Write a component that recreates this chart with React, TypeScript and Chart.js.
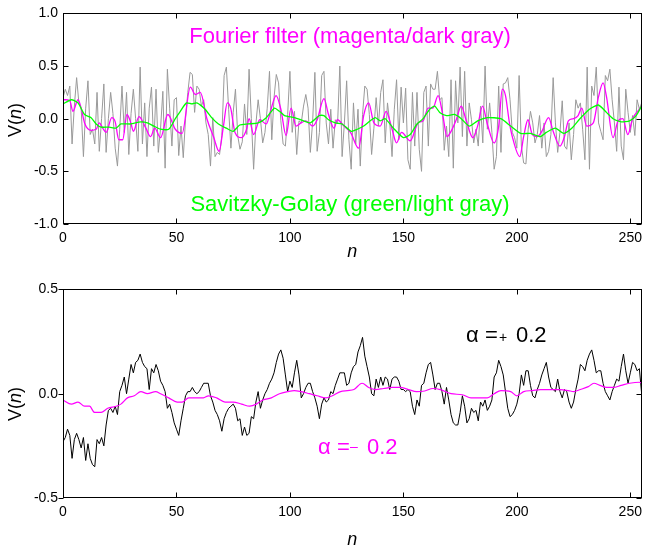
import { useEffect, useRef } from "react";
import { Chart, registerables } from "chart.js";

Chart.register(...registerables);

const FONT = "'Liberation Sans', Arial, Helvetica, sans-serif";
Chart.defaults.font.family = FONT;

// ---------- axes ----------
const X_MIN = 0;
const X_MAX = 255;
const xTickValues = [0, 50, 100, 150, 200, 250];
const topYTickValues = [-1, -0.5, 0, 0.5, 1];
const bottomYTickValues = [-0.5, 0, 0.5];

// ---------- top panel: raw signal (gray), n = 0..255 ----------
const rawSignal = [
  0.2, 0.28, 0.22, 0.31, -0.24, 0.12, 0.39, 0.15, 0.1, -0.36,
  0.1, 0.36, -0.15, -0.1, -0.24, 0.25, -0.31, 0.0, 0.33, -0.32,
  0.0, 0.25, 0.05, -0.28, -0.45, -0.1, 0.31, -0.13, 0.25, -0.34,
  0.05, 0.28, 0.0, -0.31, 0.49, -0.24, 0.15, -0.36, 0.1, 0.3,
  -0.26, 0.28, -0.32, -0.09, 0.26, -0.47, 0.47, 0.1, -0.26, 0.18,
  0.2, -0.35, -0.07, -0.37, 0.0, 0.25, 0.44, 0.42, 0.06, 0.31,
  0.28, 0.12, 0.18, -0.04, -0.15, -0.45, 0.01, -0.36, -0.32, -0.34,
  -0.16, 0.41, 0.49, 0.09, -0.28, 0.06, 0.28, -0.16, -0.29, -0.22,
  0.14, -0.15, 0.47, 0.0, -0.48, -0.05, 0.18, 0.0, -0.23, -0.13,
  0.1, 0.45, -0.2, 0.2, 0.42, 0.34, -0.02, -0.24, -0.26, 0.04,
  0.45, -0.13, 0.07, -0.34, -0.02, -0.04, 0.12, 0.23, 0.1, -0.32,
  -0.03, 0.44, -0.31, -0.13, 0.41, 0.45, -0.04, -0.24, 0.09, -0.28,
  -0.01, -0.05, 0.5, -0.36, -0.04, 0.36, -0.2, -0.48, 0.15, -0.24,
  0.09, -0.45, 0.04, 0.31, 0.28, 0.04, -0.34, -0.09, 0.2, -0.07,
  0.25, 0.37, -0.23, 0.15, -0.04, -0.36, 0.09, 0.37, -0.2, 0.3,
  -0.04, 0.29, -0.39, -0.48, 0.25, -0.26, 0.25, -0.29, -0.5, 0.25,
  0.31, -0.26, 0.33, 0.28, 0.28, 0.45, 0.18, 0.2, -0.3, -0.07,
  -0.36, 0.37, -0.47, 0.36, -0.04, 0.49, -0.17, 0.45, -0.26, 0.15,
  -0.01, -0.23, -0.1, -0.26, 0.12, -0.23, 0.5, -0.1, 0.15, -0.13,
  -0.48, -0.36, 0.31, -0.32, 0.33, 0.34, 0.39, 0.18, -0.13, -0.18,
  -0.28, 0.41, -0.26, -0.42, -0.43, -0.1, 0.07, -0.04, -0.23, -0.15,
  0.03, -0.28, -0.04, -0.36, -0.31, -0.15, 0.39, -0.04, -0.32, -0.13,
  0.17, -0.26, -0.29, -0.04, -0.39, -0.15, 0.18, 0.1, 0.15, -0.1,
  -0.39, 0.49, -0.48, 0.31, 0.22, 0.49, -0.04, -0.12, -0.2, 0.41,
  0.36, 0.47, 0.18, -0.04, -0.31, 0.3, -0.26, -0.39, 0.28, 0.06,
  -0.13, 0.03, -0.16, 0.18, 0.09, 0.15,
];

// ---------- top panel: Fourier filter (magenta) ----------
const fourierN = [
  0, 1, 3, 4.4, 6.6, 8, 9.5, 12.4, 14.6, 16, 17.5, 19, 21.5, 23, 24.6, 26.3, 28.2,
  29.9, 31, 33.5, 36.5, 38.6, 40.4, 43, 46.2, 49.5, 52.5, 56.1, 58.3, 60.5, 63.4,
  66.3, 68.8, 70.7, 72.4, 73.9, 75.8, 78.7, 80.9, 82, 84, 86.7, 89.6, 91.8, 93.9,
  96, 98.3, 100.5, 102.7, 104.9, 107, 110, 112, 115, 117, 119.4, 120.9, 123.8,
  126.7, 130.3, 132.5, 134.7, 137, 139.8, 142.4, 144.9, 147, 149.2, 153, 156.5,
  158.7, 160.9, 163, 165.3, 167.4, 169.2, 171, 173.3, 175.5, 177.6, 180.6, 182.7,
  184.9, 187, 190, 192, 193.6, 195, 196.6, 198, 201.3, 203, 204.9, 206.8, 209, 211,
  214, 216, 219, 221, 222.7, 225, 227, 228.6, 230.8, 233.7, 235.9, 238, 239.5,
  242.4, 244.6, 246.7, 248.9, 251, 254, 255,
];
const fourierV = [
  0.18, 0.18, 0.17, 0.07, 0.18, 0.1, -0.04, -0.11, -0.1, -0.04, -0.09, -0.13, 0.01, -0.03, -0.2, -0.2, 0.04,
  -0.04, -0.12, 0.02, -0.09, -0.17, -0.09, -0.18, 0.04, -0.1, -0.14, 0.3, 0.23, 0.25, 0.0,
  -0.17, -0.31, -0.07, 0.15, 0.1, -0.13, -0.18, -0.1, 0.0, -0.15, -0.01, -0.05, 0.1, 0.22,
  0.09, -0.16, 0.1, -0.07, -0.04, -0.02, -0.07, -0.01, 0.19, 0.04, -0.09, -0.01, -0.07,
  -0.13, -0.28, 0.03, 0.15, -0.04, -0.07, 0.07, -0.09, -0.23, -0.13, -0.21, -0.04,
  -0.02, 0.1, 0.1, 0.22, 0.03, -0.17, -0.12, -0.01, 0.12, -0.01, -0.18, -0.07,
  0.12, -0.05, -0.23, -0.07, 0.28, 0.22, -0.02, -0.17, -0.36, -0.17, -0.01, -0.15, -0.17, -0.12,
  0.01, -0.12, -0.26, -0.17, -0.02, 0.0, 0.03, 0.1, -0.07, -0.04, 0.2, 0.34, 0.21,
  -0.18, -0.02, 0.0, -0.15, 0.0, 0.09, 0.12,
];

// ---------- top panel: Savitzky-Golay (green) ----------
const sgN = [
  0, 3.7, 6.6, 9.5, 12.4, 14.6, 16.8, 20.4, 23.4, 25.5, 29.9, 34.3, 37.2, 40, 43, 46.6,
  49.5, 51.7, 54.4, 56.8, 59, 62.6, 65.5, 68.5, 72, 75, 77.9, 81.6, 86, 89.6, 93.2,
  95.4, 97.6, 102, 106, 109, 113, 115, 117, 120, 123, 127, 129.7, 132.5, 135.4, 137.6,
  139.8, 142, 145.6, 150, 153, 156, 158.7, 161.6, 163.8, 166, 169, 172.5, 175.5, 179,
  182.7, 187, 192.9, 197.3, 201.7, 206, 210.4, 213, 217, 220.6, 224.2, 227.8, 232,
  235.9, 239.5, 242.4, 246, 249.7, 252.6, 255,
];
const sgV = [
  0.14, 0.18, 0.15, 0.04, 0.01, -0.05, -0.08, -0.08, -0.09, -0.05, -0.05, -0.03, -0.04, -0.07, -0.1, -0.1,
  0.0, 0.07, 0.15, 0.14, 0.15, 0.09, 0.01, -0.05, -0.09, -0.12, -0.06, -0.05, -0.04, 0.01, 0.1,
  0.07, 0.03, 0.01, -0.02, -0.04, 0.03, 0.03, -0.01, -0.04, -0.05, -0.12, -0.1, -0.07, -0.02, 0.01,
  -0.02, 0.0, -0.09, -0.18, -0.15, -0.05, 0.0, 0.09, 0.12, 0.06, 0.03, 0.04, 0.0, -0.07,
  -0.02, 0.01, 0.0, -0.07, -0.14, -0.14, -0.17, -0.13, -0.09, -0.14, -0.09, 0.0, 0.09,
  0.13, 0.06, 0.0, -0.03, -0.02, 0.03, 0.12,
];

// ---------- bottom panel: alpha = +0.2 (black), n = 0..255 ----------
const alphaPlus = [
  -0.23, -0.21, -0.17, -0.2, -0.31, -0.22, -0.19, -0.22, -0.26, -0.21,
  -0.32, -0.24, -0.31, -0.34, -0.35, -0.22, -0.24, -0.21, -0.25, -0.15,
  -0.08, -0.07, -0.09, -0.06, -0.1, 0.01, 0.04, 0.08, 0.0, 0.07,
  0.14, 0.1, 0.15, 0.16, 0.19, 0.15, 0.13, 0.12, 0.02, 0.12,
  0.1, 0.14, 0.11, 0.06, 0.04, 0.01, -0.07, -0.05, -0.09, -0.14,
  -0.17, -0.2, -0.13, -0.07, -0.01, 0.01, 0.01, 0.03, 0.01, 0.0,
  0.01, 0.03, 0.05, 0.05, 0.05, -0.01, -0.04, -0.08, -0.1, -0.13,
  -0.18, -0.12, -0.09, -0.07, -0.06, -0.05, -0.07, -0.13, -0.12, -0.2,
  -0.16, -0.2, -0.19, -0.11, -0.12, -0.04, 0.01, -0.07, -0.03, 0.0,
  0.02, 0.05, 0.07, 0.1, 0.15, 0.19, 0.21, 0.17, 0.09, 0.01,
  0.06, 0.03, 0.1, 0.16, 0.09, -0.02, 0.0, 0.03, 0.05, 0.05,
  0.01, -0.02, -0.06, -0.12, -0.05, -0.02, -0.04, -0.03, 0.01, 0.0,
  0.04, 0.07, 0.1, 0.1, 0.1, 0.04, 0.05, 0.1, 0.13, 0.14,
  0.2, 0.23, 0.27, 0.18, 0.13, 0.08, 0.0, -0.01, 0.07, 0.03,
  0.08, 0.04, 0.08, 0.07, 0.02, 0.07, 0.08, 0.08, 0.06, 0.02,
  0.02, 0.01, 0.02, 0.01, -0.06, -0.1, -0.03, -0.06, 0.04, 0.05,
  0.1, 0.14, 0.15, 0.09, 0.02, 0.05, 0.05, 0.01, -0.05, 0.03,
  -0.03, -0.1, -0.14, -0.15, -0.15, -0.09, -0.01, -0.06, -0.14, -0.12,
  -0.07, -0.09, -0.08, -0.13, -0.04, -0.06, -0.03, -0.08, -0.06, -0.03,
  0.08, 0.1, 0.16, 0.13, 0.09, 0.01, -0.07, -0.11, -0.1, -0.08,
  -0.05, 0.0, 0.09, 0.04, 0.11, 0.11, 0.04, -0.01, -0.02, 0.02,
  0.05, 0.09, 0.12, 0.15, 0.08, 0.03, 0.02, 0.01, 0.07, 0.01,
  -0.02, 0.02, 0.01, -0.04, -0.07, -0.04, 0.02, 0.07, 0.14, 0.13,
  0.11, 0.16, 0.19, 0.21, 0.16, 0.1, 0.11, 0.11, 0.05, 0.01,
  -0.01, -0.03, 0.01, 0.04, 0.07, 0.06, 0.13, 0.19, 0.11, 0.05,
  0.1, 0.15, 0.14, 0.11, 0.12, 0.0,
];

// ---------- bottom panel: alpha = -0.2 (magenta) ----------
const alphaMinusN = [
  0, 3.7, 6.6, 9.5, 11.7, 13.9, 16.8, 19.7, 23.4, 25.5, 28.4, 31.4, 34.3, 37.2, 40.8,
  43, 46.6, 50.3, 52.5, 55.4, 59, 61.9, 64.1, 67.7, 71.4, 75, 78.7, 82.3, 85.2, 88.1,
  91.8, 95.4, 99, 101.9, 104.9, 108.5, 112, 115.8, 118.7, 122.3, 125.3, 128.2, 131.8,
  134.7, 137.6, 141.3, 144.9, 148.5, 152.2, 155.8, 159.4, 163, 166.7, 171, 176, 179.8,
  183, 187, 190, 193, 197.3, 200, 203, 206.8, 210.4, 214.7, 219, 222.7, 225, 228,
  231.5, 234, 236.6, 239.5, 242.4, 246, 249.7, 254, 255,
];
const alphaMinusV = [
  -0.03, -0.05, -0.04, -0.06, -0.06, -0.09, -0.09, -0.07, -0.06, -0.05, -0.02, -0.01, 0.01, 0.0, 0.01,
  0.0, -0.02, -0.04, -0.04, -0.02, -0.02, -0.02, -0.01, -0.02, -0.04, -0.04, -0.05, -0.06, -0.05, -0.03,
  -0.02, 0.0, 0.01, 0.015, 0.01, 0.0, -0.01, -0.02, -0.01, 0.01, 0.015, 0.02, 0.05,
  0.03, 0.02, 0.025, 0.03, 0.03, 0.02, 0.01, 0.013, 0.025, 0.018, 0.0, -0.005, -0.02,
  -0.02, -0.02, 0.0, 0.015, 0.01, -0.01, 0.01, 0.015, 0.02, 0.02, 0.02, 0.015, 0.01, 0.02,
  0.034, 0.05, 0.04, 0.03, 0.03, 0.04, 0.05, 0.055, 0.05,
];

// ---------- texts ----------
const fourierLabel = "Fourier filter (magenta/dark gray)";
const sgLabel = "Savitzky-Golay (green/light gray)";

type Run = { text: string; size: number; color: string; x: number; y: number; align?: CanvasTextAlign };

function drawTitleParts(ctx: CanvasRenderingContext2D, size: number, x: number, y: number) {
  const parts = [
    { t: "V(", italic: false },
    { t: "n", italic: true },
    { t: ")", italic: false },
  ];
  let total = 0;
  const widths = parts.map((p) => {
    ctx.font = `${p.italic ? "italic " : ""}${size}px ${FONT}`;
    const w = ctx.measureText(p.t).width;
    total += w;
    return w;
  });
  let cx = x - total / 2;
  parts.forEach((p, i) => {
    ctx.font = `${p.italic ? "italic " : ""}${size}px ${FONT}`;
    ctx.textAlign = "left";
    ctx.fillText(p.t, cx, y);
    cx += widths[i];
  });
}

const decoPlugin = {
  id: "deco",
  afterDraw(chart: any, _args: any, opts: any) {
    const { ctx, chartArea: a, scales } = chart;
    const xs = scales.x;
    const ys = scales.y;
    ctx.save();
    ctx.strokeStyle = "#000";
    ctx.lineWidth = 1;
    const L = Math.round(a.left) + 0.5;
    const R = Math.round(a.right) - 0.5;
    const T = Math.round(a.top) + 0.5;
    const B = Math.round(a.bottom) - 0.5;
    ctx.strokeRect(L, T, R - L, B - T);
    ctx.beginPath();
    for (const t of xs.ticks) {
      const p = Math.round(xs.getPixelForValue(t.value)) + 0.5;
      ctx.moveTo(p, B);
      ctx.lineTo(p, B - 5);
      ctx.moveTo(p, T);
      ctx.lineTo(p, T + 5);
    }
    for (const t of ys.ticks) {
      const p = Math.round(ys.getPixelForValue(t.value)) + 0.5;
      if (opts.leftOut) {
        ctx.moveTo(L - 5, p);
        ctx.lineTo(L, p);
      } else {
        ctx.moveTo(L, p);
        ctx.lineTo(L + 5, p);
      }
      ctx.moveTo(R, p);
      ctx.lineTo(R - 5, p);
    }
    ctx.stroke();

    ctx.fillStyle = "#000";
    ctx.textBaseline = "alphabetic";
    // y title (rotated)
    ctx.save();
    ctx.translate(opts.yTitleX, opts.yTitleY);
    ctx.rotate(-Math.PI / 2);
    drawTitleParts(ctx, 18, 0, 0);
    ctx.restore();
    // x title
    ctx.font = `italic 18px ${FONT}`;
    ctx.textAlign = "center";
    ctx.fillText("n", (a.left + a.right) / 2, opts.xTitleBaseline);

    for (const r of opts.runs as Run[]) {
      ctx.font = `${r.size}px ${FONT}`;
      ctx.fillStyle = r.color;
      ctx.textAlign = r.align || "left";
      ctx.fillText(r.text, r.x, r.y);
    }
    ctx.restore();
  },
};

function baseOptions(
  yMin: number,
  yMax: number,
  yTicks: number[],
  padTop: number,
  xHeight: number,
  deco: any
) {
  return {
    responsive: false,
    animation: false as const,
    devicePixelRatio: 1,
    layout: { padding: { top: padTop, right: 1, left: 0, bottom: 0 } },
    elements: { point: { radius: 0 } },
    plugins: {
      legend: { display: false },
      tooltip: { enabled: false },
      deco,
    },
    scales: {
      x: {
        type: "linear" as const,
        min: X_MIN,
        max: X_MAX,
        grid: { display: false, drawTicks: false },
        border: { display: false },
        ticks: {
          autoSkip: false,
          maxRotation: 0,
          padding: 6,
          color: "#000",
          font: { size: 14, family: FONT },
          callback: (v: any) => String(v),
        },
        afterBuildTicks: (s: any) => {
          s.ticks = xTickValues.map((v) => ({ value: v }));
        },
        afterFit: (s: any) => {
          s.height = xHeight;
        },
      },
      y: {
        type: "linear" as const,
        min: yMin,
        max: yMax,
        grid: { display: false, drawTicks: false },
        border: { display: false },
        ticks: {
          autoSkip: false,
          padding: 5,
          color: "#000",
          font: { size: 14, family: FONT },
          callback: (v: any) => Number(v).toFixed(1),
        },
        afterBuildTicks: (s: any) => {
          s.ticks = yTicks.map((v) => ({ value: v }));
        },
        afterFit: (s: any) => {
          s.width = 63;
        },
      },
    },
  };
}

export default function App() {
  const topRef = useRef<HTMLCanvasElement>(null);
  const botRef = useRef<HTMLCanvasElement>(null);

  useEffect(() => {
    const topChart = new Chart(topRef.current!, {
      type: "line",
      data: {
        datasets: [
          {
            data: rawSignal.map((y, i) => ({ x: i, y })),
            borderColor: "#9a9a9a",
            borderWidth: 1,
            tension: 0,
            order: 3,
          },
          {
            data: fourierN.map((x, i) => ({ x, y: fourierV[i] })),
            borderColor: "#ff00ff",
            borderWidth: 1.3,
            cubicInterpolationMode: "monotone",
            order: 2,
          },
          {
            data: sgN.map((x, i) => ({ x, y: sgV[i] })),
            borderColor: "#00ff00",
            borderWidth: 1.3,
            tension: 0.2,
            order: 1,
          },
        ],
      },
      options: baseOptions(-1, 1, topYTickValues, 12, 52, {
        leftOut: false,
        yTitleX: 21,
        yTitleY: 120,
        xTitleBaseline: 257,
        runs: [
          { text: fourierLabel, size: 22, color: "#ff00ff", x: 350, y: 43, align: "center" },
          { text: sgLabel, size: 22, color: "#00ff00", x: 350, y: 211, align: "center" },
        ],
      }) as any,
      plugins: [decoPlugin],
    });

    const botChart = new Chart(botRef.current!, {
      type: "line",
      data: {
        datasets: [
          {
            data: alphaPlus.map((y, i) => ({ x: i, y })),
            borderColor: "#000000",
            borderWidth: 1,
            tension: 0,
            order: 2,
          },
          {
            data: alphaMinusN.map((x, i) => ({ x, y: alphaMinusV[i] })),
            borderColor: "#ff00ff",
            borderWidth: 1.2,
            cubicInterpolationMode: "monotone",
            order: 1,
          },
        ],
      },
      options: baseOptions(-0.5, 0.5, bottomYTickValues, 10, 54, {
        leftOut: true,
        yTitleX: 21,
        yTitleY: 128,
        xTitleBaseline: 269,
        runs: [
          { text: "\u03b1", size: 22, color: "#000", x: 466, y: 66 },
          { text: "=", size: 22, color: "#000", x: 485, y: 66 },
          { text: "+", size: 14, color: "#000", x: 499, y: 66 },
          { text: "0.2", size: 22, color: "#000", x: 516, y: 66 },
          { text: "\u03b1", size: 22, color: "#ff00ff", x: 318, y: 178 },
          { text: "=", size: 22, color: "#ff00ff", x: 337, y: 178 },
          { text: "\u2013", size: 14, color: "#ff00ff", x: 350, y: 175 },
          { text: "0.2", size: 22, color: "#ff00ff", x: 367, y: 178 },
        ],
      }) as any,
      plugins: [decoPlugin],
    });

    return () => {
      topChart.destroy();
      botChart.destroy();
    };
  }, []);

  return (
    <div
      style={{
        position: "fixed",
        left: 0,
        top: 0,
        width: 648,
        height: 552,
        background: "#fff",
      }}
    >
      <canvas
        ref={topRef}
        width={648}
        height={276}
        style={{ position: "absolute", left: 0, top: 0, width: 648, height: 276 }}
      />
      <canvas
        ref={botRef}
        width={648}
        height={276}
        style={{ position: "absolute", left: 0, top: 276, width: 648, height: 276 }}
      />
    </div>
  );
}
